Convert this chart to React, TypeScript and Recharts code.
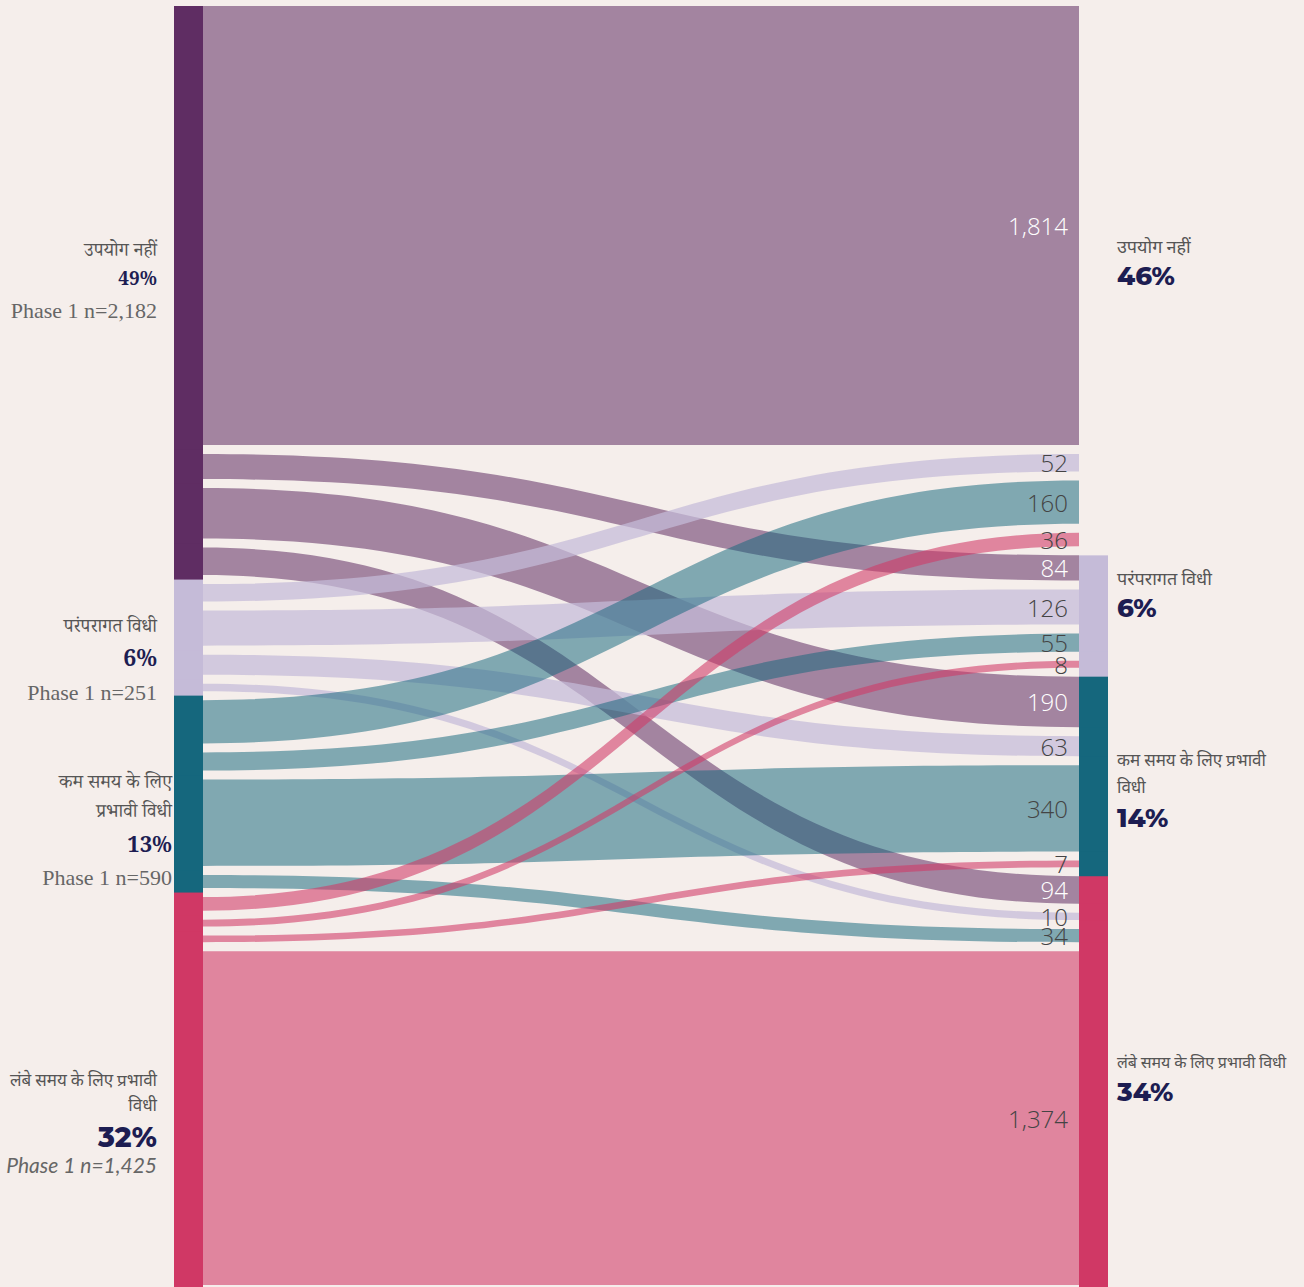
import { Sankey } from 'recharts';

const categories = ['उपयोग नहीं', 'परंपरागत विधी', 'कम समय के लिए प्रभावी विधी', 'लंबे समय के लिए प्रभावी विधी'];

// Phase 1 category -> Phase 2 category, in the order of `categories`
const fromNotUsing = [1814, 84, 190, 94];
const fromTraditional = [52, 126, 63, 10];
const fromShortTerm = [160, 55, 340, 34];
const fromLongTerm = [36, 8, 7, 1374];

const phase1Share = ['49%', '6%', '13%', '32%'];
const phase1Count = ['2,182', '251', '590', '1,425'];
const phase2Share = ['46%', '6%', '14%', '34%'];

const NODE_COLORS = ['#5f2d63', '#c5bbd8', '#15677d', '#d03865'];
const LINK_OPACITY = [0.55, 0.72, 0.52, 0.58];
const BG = '#f5eeeb';
const NAVY = '#1d1d52';
const PAD = 14;
const BLEED = 2.5; // ribbons are drawn a little fatter than their value, like the original

const flows = [fromNotUsing, fromTraditional, fromShortTerm, fromLongTerm];
const n = categories.length;

// each flow gets its own stub on both sides so the ribbons keep a gap between them
const nodes: any[] = [];
for (let s = 0; s < n; s++)
    for (let t = 0; t < n; t++) nodes.push({ name: `${categories[s]} → ${categories[t]}`, side: 'left', cat: s, src: s, pos: t });
for (let t = 0; t < n; t++)
    for (let s = 0; s < n; s++) nodes.push({ name: `${categories[s]} → ${categories[t]}`, side: 'right', cat: t, src: s, pos: s });

const links: any[] = [];
for (let s = 0; s < n; s++)
    for (let t = 0; t < n; t++) links.push({ source: s * n + t, target: n * n + t * n + s, value: flows[s][t] });

function StubNode({ x, y, width, height, index, payload }: any) {
    const first = index === 0 || index === n * n;
    const last = index === n * n - 1 || index === 2 * n * n - 1;
    if (payload.side === 'left') {
        const top = first ? y - BLEED : y - PAD / 2;
        const bottom = last ? y + height + 4.5 : y + height + PAD / 2 + 1;
        return <rect x={x} y={top} width={width} height={bottom - top} fill={NODE_COLORS[payload.cat]} />;
    }
    // right bars start at the top edge of their first ribbon
    const top = payload.pos === 0 ? y - BLEED : y - PAD + BLEED;
    const bottom = last ? y + height + 4.5 : y + height + PAD - BLEED + 1;
    return (
        <g>
            {payload.cat > 0 && <rect x={x} y={top} width={width} height={bottom - top} fill={NODE_COLORS[payload.cat]} />}
            <text
                x={x - 11}
                y={y + height / 2}
                textAnchor="end"
                dominantBaseline="central"
                fontFamily="'Open Sans', Lato, sans-serif"
                fontWeight={300}
                fontSize={24}
                fill={payload.src === 0 ? '#ffffff' : '#444444'}
            >
                {Number(payload.value).toLocaleString('en-US')}
            </text>
        </g>
    );
}

function Ribbon({ sourceX, sourceY, sourceControlX, targetX, targetY, targetControlX, linkWidth, index, payload }: any) {
    const h = linkWidth / 2 + BLEED;
    const cat = payload?.source?.cat ?? Math.floor(index / n);
    const d =
        `M${sourceX},${sourceY - h} C${sourceControlX},${sourceY - h} ${targetControlX},${targetY - h} ${targetX},${targetY - h} ` +
        `L${targetX},${targetY + h} C${targetControlX},${targetY + h} ${sourceControlX},${sourceY + h} ${sourceX},${sourceY + h} Z`;
    return <path d={d} fill={NODE_COLORS[cat]} fillOpacity={LINK_OPACITY[cat]} />;
}

const serif = "'Noto Serif Devanagari', 'Noto Serif', 'Liberation Serif', serif";
const sans = "Lato, 'Noto Sans', 'Noto Sans Devanagari', sans-serif";
const heavy = "Montserrat, 'Open Sans', sans-serif";

const Line = ({ y, children, style }: any) => (
    <div style={{ position: 'absolute', top: y - 16, height: 32, lineHeight: '32px', whiteSpace: 'nowrap', ...style }}>{children}</div>
);

const leftAt = (edge: number) => ({ right: 1304 - edge, textAlign: 'right' as const });
const rightAt = { left: 1117 };

export default function App() {
    const devaSerif = { fontFamily: serif, fontSize: 19, color: '#555' };
    const pctSerif = { fontFamily: serif, fontWeight: 700, color: NAVY };
    const countSerif = { fontFamily: "'Liberation Serif', serif", fontSize: 22, color: '#666' };
    const devaItalicLeft = { fontFamily: sans, fontStyle: 'italic', fontSize: 17, color: '#555' };
    const devaItalic = { fontFamily: sans, fontStyle: 'italic', fontSize: 17, color: '#555' };
    const pctHeavy = { fontFamily: heavy, fontWeight: 800, fontSize: 26, color: NAVY };

    return (
        <div style={{ position: 'absolute', left: 0, top: 0, width: 1304, height: 1287, background: BG, overflow: 'hidden' }}>
            <Sankey
                width={1304}
                height={1287}
                data={{ nodes, links }}
                nodeWidth={29}
                nodePadding={PAD}
                iterations={0}
                sort={false}
                margin={{ top: 8.5, bottom: 4.5, left: 174, right: 196 }}
                node={<StubNode />}
                link={<Ribbon />}
            />

            {/* Phase 1 labels */}
            <Line y={253} style={{ ...leftAt(157), ...devaSerif }}>{categories[0]}</Line>
            <Line y={282} style={{ ...leftAt(157), ...pctSerif, fontSize: 19 }}>{phase1Share[0]}</Line>
            <Line y={311} style={{ ...leftAt(157), ...countSerif }}>Phase 1 n={phase1Count[0]}</Line>

            <Line y={629} style={{ ...leftAt(157), ...devaSerif }}>{categories[1]}</Line>
            <Line y={663} style={{ ...leftAt(157), ...pctSerif, fontSize: 23 }}>{phase1Share[1]}</Line>
            <Line y={693} style={{ ...leftAt(157), ...countSerif }}>Phase 1 n={phase1Count[1]}</Line>

            <Line y={785} style={{ ...leftAt(172), ...devaSerif }}>कम समय के लिए</Line>
            <Line y={814} style={{ ...leftAt(172), ...devaSerif }}>प्रभावी विधी</Line>
            <Line y={849} style={{ ...leftAt(172), ...pctSerif, fontSize: 22 }}>{phase1Share[2]}</Line>
            <Line y={878} style={{ ...leftAt(172), ...countSerif }}>Phase 1 n={phase1Count[2]}</Line>

            <Line y={1080} style={{ ...leftAt(157), ...devaItalicLeft }}>लंबे समय के लिए प्रभावी</Line>
            <Line y={1105} style={{ ...leftAt(157), ...devaItalicLeft }}>विधी</Line>
            <Line y={1137} style={{ ...leftAt(157), ...pctHeavy, fontSize: 28 }}>{phase1Share[3]}</Line>
            <Line y={1165} style={{ ...leftAt(157), fontFamily: sans, fontStyle: 'italic', fontSize: 21, color: '#666' }}>
                Phase 1 n={phase1Count[3]}
            </Line>

            {/* Phase 2 labels */}
            <Line y={246} style={{ ...rightAt, ...devaItalic, fontSize: 18 }}>{categories[0]}</Line>
            <Line y={276} style={{ ...rightAt, ...pctHeavy }}>{phase2Share[0]}</Line>

            <Line y={578} style={{ ...rightAt, ...devaItalic, fontSize: 18 }}>{categories[1]}</Line>
            <Line y={608} style={{ ...rightAt, ...pctHeavy }}>{phase2Share[1]}</Line>

            <Line y={760} style={{ ...rightAt, ...devaItalic }}>कम समय के लिए प्रभावी</Line>
            <Line y={787} style={{ ...rightAt, ...devaItalic }}>विधी</Line>
            <Line y={818} style={{ ...rightAt, ...pctHeavy }}>{phase2Share[2]}</Line>

            <Line y={1062} style={{ ...rightAt, ...devaItalic, fontSize: 16 }}>{categories[3]}</Line>
            <Line y={1092} style={{ ...rightAt, ...pctHeavy }}>{phase2Share[3]}</Line>
        </div>
    );
}
